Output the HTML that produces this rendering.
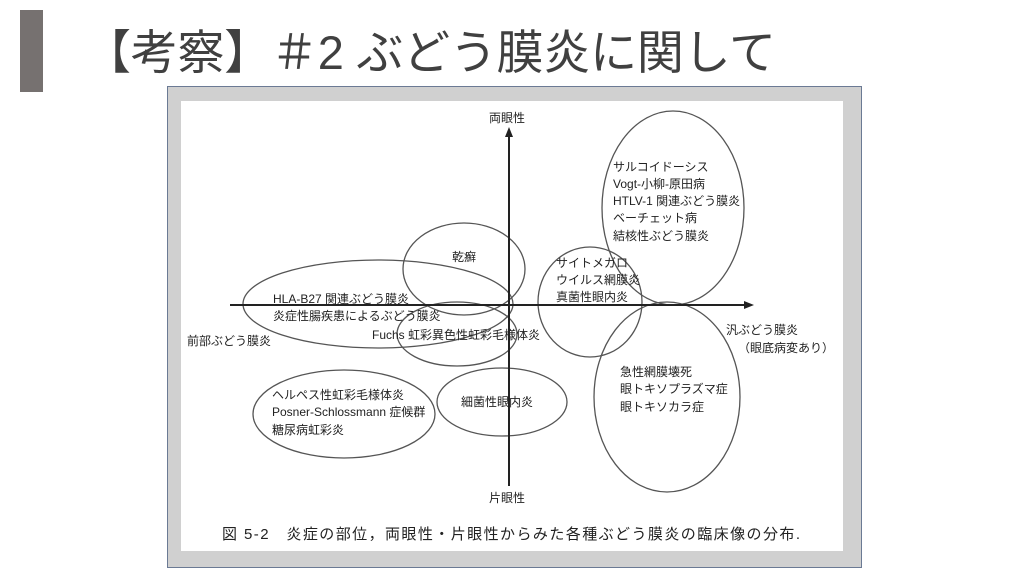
<!DOCTYPE html>
<html><head><meta charset="utf-8"><style>
html,body{margin:0;padding:0;background:#fff;width:1024px;height:576px;overflow:hidden}
</style></head><body>
<svg width="1024" height="576" xmlns="http://www.w3.org/2000/svg" font-family="'Liberation Sans','Noto Sans CJK JP',sans-serif">
<rect x="20" y="10" width="23" height="82" fill="#767170"/>
<text x="84" y="69" font-size="47" fill="#404040" textLength="692">【考察】＃2 ぶどう膜炎に関して</text>
<rect x="167.5" y="86.5" width="694" height="481" fill="#d0d0d0" stroke="#6b7a94" stroke-width="1"/>
<rect x="181" y="101" width="662" height="450" fill="#fff"/>
<g fill="none" stroke="#555" stroke-width="1.3">
<ellipse cx="673" cy="208" rx="71" ry="97"/>
<ellipse cx="590" cy="302" rx="52" ry="55"/>
<ellipse cx="667" cy="397" rx="73" ry="95"/>
<ellipse cx="464" cy="269" rx="61" ry="46"/>
<ellipse cx="378" cy="304" rx="135" ry="44"/>
<ellipse cx="457" cy="334" rx="60" ry="32"/>
<ellipse cx="344" cy="414" rx="91" ry="44"/>
<ellipse cx="502" cy="402" rx="65" ry="34"/>
</g>
<g stroke="#222" stroke-width="2">
<line x1="509" y1="134" x2="509" y2="486"/>
<line x1="230" y1="305" x2="746" y2="305"/>
</g>
<polygon points="509,127 505,137 513,137" fill="#222"/>
<polygon points="754,305 744,301 744,309" fill="#222"/>
<g font-size="12" fill="#222">
<text x="489" y="122">両眼性</text>
<text x="489" y="502">片眼性</text>
<text x="187" y="345">前部ぶどう膜炎</text>
<text x="726" y="334">汎ぶどう膜炎</text>
<text x="738" y="352">（眼底病変あり）</text>
<text x="613" y="171">サルコイドーシス</text>
<text x="613" y="188">Vogt-小柳-原田病</text>
<text x="613" y="205">HTLV-1 関連ぶどう膜炎</text>
<text x="613" y="222">ベーチェット病</text>
<text x="613" y="240">結核性ぶどう膜炎</text>
<text x="556" y="267">サイトメガロ</text>
<text x="556" y="284">ウイルス網膜炎</text>
<text x="556" y="301">真菌性眼内炎</text>
<text x="452" y="261">乾癬</text>
<text x="273" y="303">HLA-B27 関連ぶどう膜炎</text>
<text x="273" y="320">炎症性腸疾患によるぶどう膜炎</text>
<text x="372" y="339">Fuchs 虹彩異色性虹彩毛様体炎</text>
<text x="272" y="399">ヘルペス性虹彩毛様体炎</text>
<text x="272" y="416">Posner-Schlossmann 症候群</text>
<text x="272" y="434">糖尿病虹彩炎</text>
<text x="461" y="406">細菌性眼内炎</text>
<text x="620" y="376">急性網膜壊死</text>
<text x="620" y="393">眼トキソプラズマ症</text>
<text x="620" y="411">眼トキソカラ症</text>
</g>
<text x="222" y="539" font-size="15" fill="#222" textLength="578">図 5-2　炎症の部位，両眼性・片眼性からみた各種ぶどう膜炎の臨床像の分布.</text>
</svg>
</body></html>
